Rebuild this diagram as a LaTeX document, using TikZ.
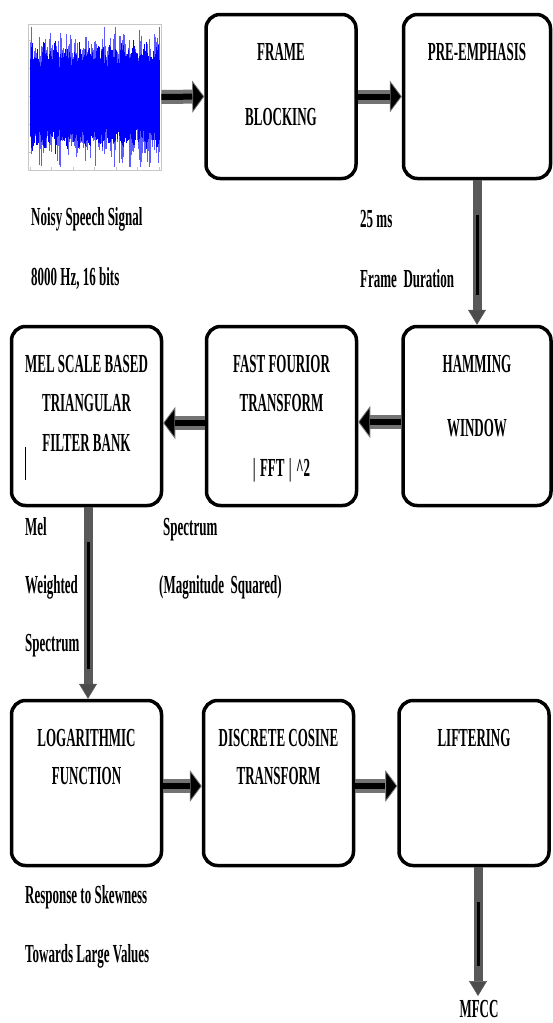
\documentclass[tikz,border=0pt]{standalone}
\usepackage{fontspec}
\setmainfont{Liberation Serif}[FakeStretch=0.5]
\usetikzlibrary{calc,arrows.meta}
\definecolor{wave}{HTML}{0000FF}
\definecolor{wavelt}{HTML}{5C5CFF}
\definecolor{frame}{HTML}{C8C8C8}
\tikzset{
  blk/.style={draw=black, line width=3.5pt, rounded corners=14pt, minimum width=150pt, minimum height=164pt, inner sep=0pt},
  blktxt/.style={anchor=north, align=center, inner sep=0pt, font=\fontsize{26}{30}\selectfont\bfseries},
  labb/.style={anchor=base west, inner sep=0pt, font=\fontsize{26}{30}\selectfont\bfseries},
  harr/.style={draw=black!55, line width=14pt, -{Triangle[length=12pt,width=32pt,line width=0.8pt,fill=black]},
    postaction={draw=black, line width=6pt, shorten >=12pt, -}},
  varr/.style={draw=black!65, line width=9pt, -{Triangle[length=15pt,width=18pt,line width=0.6pt,fill=black!70]},
    postaction={draw=black, line width=3pt, shorten >=30pt, shorten <=35pt, -}}
}
\begin{document}
\begin{tikzpicture}[x=1pt,y=-1pt]
  \useasboundingbox (0,0) rectangle (553,1023);

  % speech signal
  \node[draw=frame, line width=0.8pt, minimum width=133pt, minimum height=146pt, inner sep=0pt] (wave) at (94.5,97) {};
  \foreach \t in {0,...,6} \draw[frame, line width=0.6pt] (30+\t*21.5,170) -- ++(0,-3);
  \foreach \t in {0,...,4} \draw[frame, line width=0.6pt] (28,40+\t*28) -- ++(3,0);
  \pgfmathsetseed{11}
  \foreach \i in {0,...,430}{
    \pgfmathsetmacro{\env}{1+0.25*sin(\i*17)*cos(\i*5)}
    \pgfmathsetmacro{\ya}{97-(30+40*rnd*rnd)*\env}
    \pgfmathsetmacro{\yb}{97+(30+40*rnd*rnd)*\env}
    \draw[wavelt, line width=0.3pt] (30+0.3*\i,{max(\ya,27)}) -- (30+0.3*\i,{min(\yb,167)});
  }
  \foreach \i in {0,...,259}{
    \pgfmathsetmacro{\env}{1+0.2*sin(\i*23)*cos(\i*7)}
    \pgfmathsetmacro{\ya}{97-(32+16*rnd)*\env}
    \pgfmathsetmacro{\yb}{97+(32+16*rnd)*\env}
    \draw[wave, line width=0.6pt] (30+0.5*\i,\ya) -- (30+0.5*\i,\yb);
  }

  % blocks
  \node[blk] (fb) at (281,96.5) {};
  \node[blk, minimum width=147pt] (pe) at (477,96.5) {};
  \node[blk, minimum height=179pt] (mel) at (86.5,416) {};
  \node[blk, minimum height=179pt] (fft) at (281.5,416) {};
  \node[blk, minimum height=179pt, minimum width=148pt] (ham) at (477,416) {};
  \node[blk, minimum height=165pt] (log) at (86.5,783) {};
  \node[blk, minimum height=165pt] (dct) at (278.5,783) {};
  \node[blk, minimum height=165pt] (lift) at (474,783) {};

  \node[blktxt] (fbt) at ([yshift=-30pt]fb.north) {FRAME\\[35pt]BLOCKING};
  \node[blktxt] (pet) at ([yshift=-30pt]pe.north) {PRE-EMPHASIS};
  \node[blktxt] (melt) at ([yshift=-30pt]mel.north) {MEL SCALE BASED\\[9pt]TRIANGULAR\\[10pt]FILTER BANK};
  \node[blktxt] (fftt) at ([yshift=-30pt]fft.north) {FAST FOURIOR\\[9pt]TRANSFORM\\[35pt]|\,FFT\,|\,\textasciicircum2};
  \node[blktxt] (hamt) at ([yshift=-30pt]ham.north) {HAMMING\\[34pt]WINDOW};
  \node[blktxt] (logt) at ([yshift=-30pt]log.north) {LOGARITHMIC\\[8pt]FUNCTION};
  \node[blktxt] (dctt) at ([yshift=-30pt]dct.north) {DISCRETE COSINE\\[8pt]TRANSFORM};
  \node[blktxt] (liftt) at ([yshift=-30pt]lift.north) {LIFTERING};
  \draw[line width=0.8pt] (25,447) -- (25,480);

  % labels
  \node[labb] (l1) at (31,225) {Noisy Speech Signal};
  \node[labb] (l2) at (31,285) {8000 Hz, 16 bits};
  \node[labb] (l3) at (360,227) {25 ms};
  \node[labb] (l4) at (360,287) {Frame\ \ Duration};
  \node[labb] (l5) at (25,535) {Mel};
  \node[labb] (l6) at (25,593) {Weighted};
  \node[labb] (l7) at (25,651) {Spectrum};
  \node[labb] (l8) at (163,535) {Spectrum};
  \node[labb] (l9) at (159,593) {(Magnitude\ \ Squared)};
  \node[labb] (l10) at (25,903) {Response to Skewness};
  \node[labb] (l11) at (25,962) {Towards Large Values};
  \node[labb, anchor=base] (mfcc) at (479,1017) {MFCC};
  \coordinate (out) at (478,996);

  % arrows
  \draw[harr] (wave.east) -- (fb.west);
  \draw[harr] (fb.east) -- (pe.west);
  \draw[varr] (pe.south) -- (ham.north);
  \draw[harr] ([yshift=-6pt]ham.west) -- ([yshift=-6pt]fft.east);
  \draw[harr] ([yshift=-7pt]fft.west) -- ([yshift=-7pt]mel.east);
  \draw[varr] ([xshift=1.5pt]mel.south) -- ([xshift=1.5pt]log.north);
  \draw[harr] ([yshift=-3pt]log.east) -- ([yshift=-3pt]dct.west);
  \draw[harr] ([yshift=-3pt]dct.east) -- ([yshift=-3pt]lift.west);
  \draw[varr] (lift.south -| out) -- (out);
\end{tikzpicture}
\end{document}
